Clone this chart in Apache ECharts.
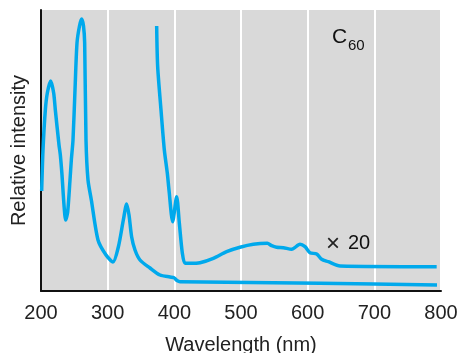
<!DOCTYPE html>
<html>
<head>
<meta charset="utf-8">
<style>html,body{margin:0;padding:0;background:#fff;}#c{width:459px;height:353px;}</style>
<script src="https://cdn.jsdelivr.net/npm/echarts@6/dist/echarts.min.js"></script>
</head>
<body>
<div id="c"></div>
<script>
// Wavelength (nm) ticks
var xTicks = [200, 300, 400, 500, 600, 700, 800];

// Main absorption spectrum of C60: [wavelength, relative intensity]
var mainWl = [201, 203, 206.5, 209.5, 214.5, 219, 221.5, 227, 229, 231.5, 234.5, 237, 240, 243.5, 245.5, 248, 251, 254, 257.75, 261, 263.75, 265.5, 267.5, 270.5, 275.5, 285.5, 297.5, 308, 316, 323.5, 328.5, 332, 336, 341, 348.5, 363.5, 378.5, 393.5, 399.5, 404, 408.5, 618.5, 794];
var mainVal = [100, 141, 181, 198, 210, 198, 181, 146, 136, 116, 86, 71, 79, 111, 131, 151, 201, 248, 265, 272, 265, 248, 151, 111, 91, 51, 36, 29, 44, 71, 87, 76, 54, 41, 31, 23, 16, 14, 13.3, 10.5, 9.3, 7.7, 6];

// Same spectrum magnified x20 in the visible region
var x20Wl = [373.5, 375, 380, 385, 389.5, 392, 397.5, 403.5, 407.5, 412, 416, 423.5, 438.5, 458.5, 478.5, 498.5, 518.5, 539.5, 546, 553.5, 563.5, 576, 588.5, 596, 603.5, 613.5, 621, 631, 648.5, 793.5];
var x20Val = [265, 224.3, 181, 141, 117.7, 101, 69.3, 94.3, 67.7, 38, 27.7, 27.7, 28.3, 32.7, 39.3, 43.7, 46.7, 47.7, 45.3, 43.7, 43.3, 41.7, 46.7, 44.3, 38.3, 37, 31.7, 29.3, 25, 24.3];

function pairs(a, b) { return a.map(function (v, i) { return [v, b[i]]; }); }

var chart = echarts.init(document.getElementById('c'), null, {renderer: 'canvas'});
var lineColor = '#00a9ec';
var font = '"Liberation Sans", Arial, Helvetica, sans-serif';
chart.setOption({
  animation: false,
  grid: {left: 41, right: 18, top: 10, bottom: 62, show: true, backgroundColor: '#d9d9d9', borderWidth: 0,
         containLabel: false, outerBoundsMode: 'none'},
  xAxis: {
    type: 'value', min: xTicks[0], max: xTicks[xTicks.length - 1], interval: 100,
    name: 'Wavelength (nm)', nameLocation: 'middle', nameGap: 44,
    nameTextStyle: {fontSize: 20, color: '#222', fontFamily: font},
    axisLine: {show: true, lineStyle: {color: '#111', width: 2}},
    axisTick: {show: false},
    axisLabel: {fontSize: 20, color: '#222', fontFamily: font, margin: 12},
    splitLine: {show: true, lineStyle: {color: '#ffffff', width: 2}}
  },
  yAxis: {
    type: 'value', min: 0, max: 281,
    name: 'Relative intensity', nameLocation: 'middle', nameGap: 12,
    nameTextStyle: {fontSize: 20, color: '#222', fontFamily: font},
    axisLine: {show: true, lineStyle: {color: '#111', width: 2}},
    axisTick: {show: false},
    axisLabel: {show: false},
    splitLine: {show: false}
  },
  series: [
    {type: 'line', data: pairs(mainWl, mainVal), smooth: 0.25, showSymbol: false, symbol: 'none',
     lineStyle: {color: lineColor, width: 3.5, cap: 'butt', join: 'round'}},
    {type: 'line', data: pairs(x20Wl, x20Val), smooth: 0.25, showSymbol: false, symbol: 'none',
     lineStyle: {color: lineColor, width: 3.5, cap: 'butt', join: 'round'}}
  ],
  graphic: [
    {type: 'text', left: 332, top: 27, style: {text: 'C', fontSize: 21, fill: '#111', fontFamily: font}},
    {type: 'text', left: 348, top: 38, style: {text: '60', fontSize: 15, fill: '#111', fontFamily: font}},
    {type: 'text', left: 326, top: 232, style: {text: '×', fontSize: 24, fill: '#222', fontFamily: font}},
    {type: 'text', left: 348, top: 233, style: {text: '20', fontSize: 20, fill: '#111', fontFamily: font}}
  ]
});
</script>
</body>
</html>
